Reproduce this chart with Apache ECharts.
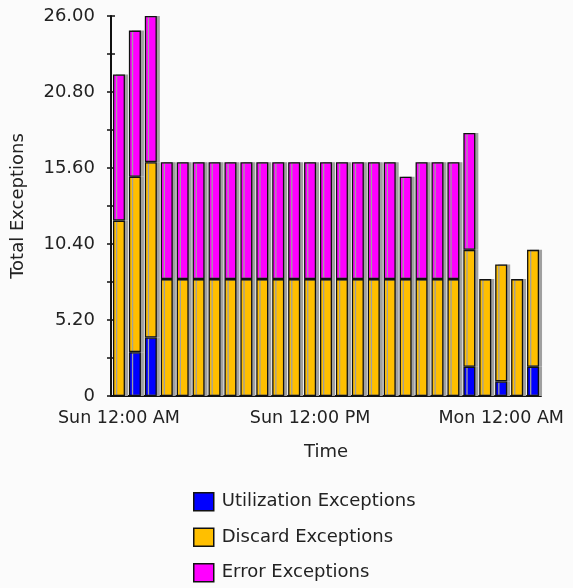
<!DOCTYPE html>
<html>
<head>
<meta charset="utf-8">
<script src="https://cdn.jsdelivr.net/npm/echarts@6/dist/echarts.min.js"></script>
<style>
html,body{margin:0;padding:0;background:#fbfbfb;}
#chart{width:573px;height:588px;}
</style>
</head>
<body>
<div id="chart"></div>
<script>
var categories = [
  "Sun 12:00 AM","Sun 1:00 AM","Sun 2:00 AM","Sun 3:00 AM","Sun 4:00 AM","Sun 5:00 AM",
  "Sun 6:00 AM","Sun 7:00 AM","Sun 8:00 AM","Sun 9:00 AM","Sun 10:00 AM","Sun 11:00 AM",
  "Sun 12:00 PM","Sun 1:00 PM","Sun 2:00 PM","Sun 3:00 PM","Sun 4:00 PM","Sun 5:00 PM",
  "Sun 6:00 PM","Sun 7:00 PM","Sun 8:00 PM","Sun 9:00 PM","Sun 10:00 PM","Sun 11:00 PM",
  "Mon 12:00 AM","Mon 1:00 AM","Mon 2:00 AM"
];
var utilization = [0,3,4,0,0,0,0,0,0,0,0,0,0,0,0,0,0,0,0,0,0,0,2,0,1,0,2];
var discard     = [12,12,12,8,8,8,8,8,8,8,8,8,8,8,8,8,8,8,8,8,8,8,8,8,8,8,8];
var error       = [10,10,10,8,8,8,8,8,8,8,8,8,8,8,8,8,8,8,7,8,8,8,8,0,0,0,0];
var yTicks = { min: 0, max: 26, interval: 5.2 };
var seriesNames = ["Utilization Exceptions","Discard Exceptions","Error Exceptions"];
var seriesColors = ["#0000ff","#ffbf00","#ff00ff"];

var FONT = "DejaVu Sans";
function nz(arr){ return arr.map(function(v){ return v === 0 ? '-' : v; }); }
var dataSets = [utilization, discard, error];

var chart = echarts.init(document.getElementById('chart'));
var yCommon = {
  type: 'value', min: yTicks.min, max: yTicks.max, interval: yTicks.interval,
  position: 'left', splitLine: { show: false }
};
chart.setOption({
  backgroundColor: '#fbfbfb',
  animation: false,
  textStyle: { fontFamily: FONT, color: '#222' },
  grid: { left: 111, top: 16, width: 430, height: 380, containLabel: false },
  legend: {
    orient: 'vertical', left: 193, top: 492, padding: 0,
    itemWidth: 20, itemHeight: 18, itemGap: 16,
    textStyle: { fontFamily: FONT, fontSize: 18, color: '#222', padding: [0,0,0,3] },
    itemStyle: { borderColor: '#111', borderWidth: 1.5, shadowColor: 'rgba(0,0,0,0)', shadowOffsetX: 0 },
    icon: 'rect',
    data: seriesNames
  },
  xAxis: {
    type: 'category', data: categories,
    name: 'Time', nameLocation: 'middle', nameGap: 47,
    nameTextStyle: { fontFamily: FONT, fontSize: 18, color: '#222' },
    axisLine: { lineStyle: { color: '#111', width: 2 } },
    axisTick: { alignWithLabel: true, length: 5, lineStyle: { color: '#111', width: 1.5 },
      interval: function(i){ return i % 12 === 0; } },
    axisLabel: { interval: function(i){ return i % 12 === 0; }, margin: 13,
      fontFamily: FONT, fontSize: 17.5, color: '#222' }
  },
  yAxis: [
    Object.assign({}, yCommon, {
      name: 'Total Exceptions', nameLocation: 'middle', nameGap: 84,
      nameTextStyle: { fontFamily: FONT, fontSize: 18, color: '#222' },
      axisLine: { show: true, lineStyle: { color: '#111', width: 2 } },
      axisTick: { show: true, length: 4, lineStyle: { color: '#111', width: 1.5 } },
      minorTick: { show: true, splitNumber: 2, length: 4, lineStyle: { color: '#111', width: 1.5 } },
      axisLabel: { margin: 16, fontFamily: FONT, fontSize: 18, color: '#222',
        formatter: function(v){ return v === 0 ? '0' : v.toFixed(2); } }
    }),
    Object.assign({}, yCommon, {
      axisLine: { show: false },
      axisTick: { show: true, inside: true, length: 4, lineStyle: { color: '#111', width: 1.5 } },
      minorTick: { show: true, splitNumber: 2, length: 4, lineStyle: { color: '#111', width: 1.5 } },
      axisLabel: { show: false }
    })
  ],
  series: seriesNames.map(function(name, k){
    return {
      name: name, type: 'bar', stack: 'total', yAxisIndex: 0,
      barWidth: 12,
      data: nz(dataSets[k]),
      itemStyle: {
        color: seriesColors[k], borderColor: '#111', borderWidth: 1.3,
        shadowColor: '#a0a0a0', shadowOffsetX: 3, shadowBlur: 0
      }
    };
  })
});
</script>
</body>
</html>
